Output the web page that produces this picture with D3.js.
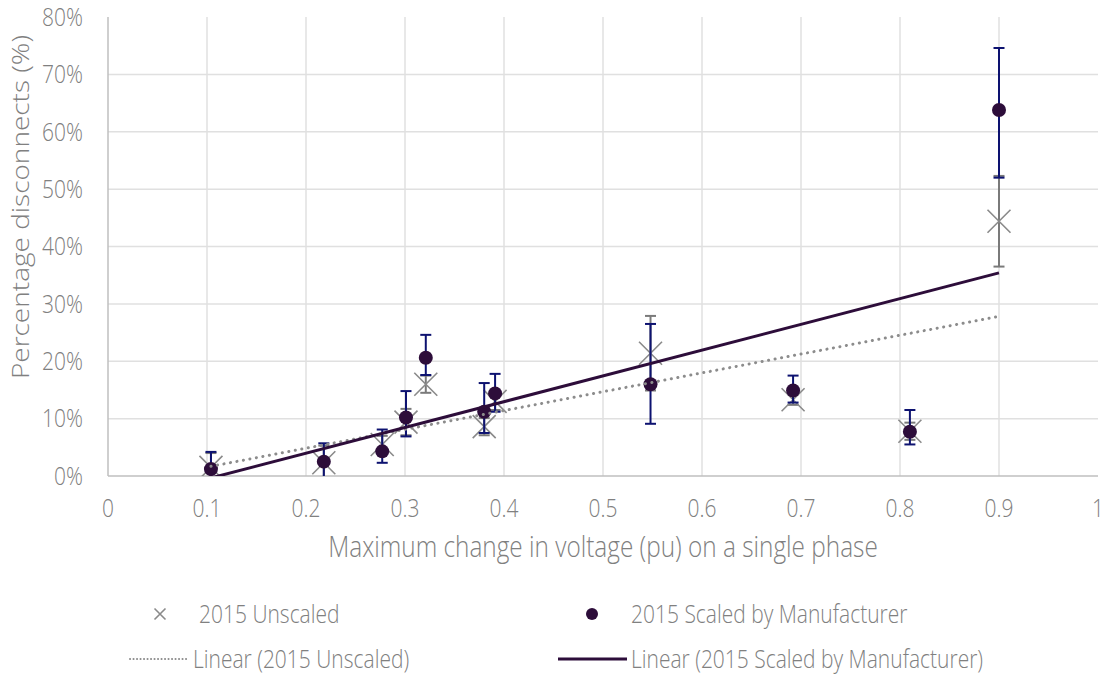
<!DOCTYPE html>
<html>
<head>
<meta charset="utf-8">
<script src="https://cdn.jsdelivr.net/npm/d3@7"></script>
<style>
  html, body { margin: 0; padding: 0; background: #ffffff; }
  svg { display: block; font-family: "Open Sans", "Noto Sans", sans-serif; }
  text { font-weight: 300; }
</style>
</head>
<body>
<svg id="chart" width="1106" height="675"></svg>
<script>
// ---- data ----
const xValues = [0.104, 0.218, 0.277, 0.301, 0.321, 0.380, 0.391, 0.548, 0.692, 0.810, 0.900];
const unscaled = [1.5, 2.3, 5.5, 9.4, 16.0, 8.6, 13.0, 21.4, 13.3, 7.8, 44.4];
const unscaledErr = [2.5, 3.0, 1.5, 2.3, 1.5, 1.5, 1.5, 6.5, 0.9, 1.5, 7.9];
const scaled = [1.2, 2.5, 4.3, 10.2, 20.6, 11.2, 14.4, 16.0, 14.9, 7.7, 63.8];
const scaledErrPlus = [3.0, 3.2, 3.8, 4.6, 4.0, 5.0, 3.4, 10.5, 2.6, 3.8, 10.8];
const scaledErrMinus = [3.0, 3.2, 2.0, 3.3, 3.0, 3.7, 3.2, 6.9, 2.1, 2.2, 11.8];
const xTicks = [0, 0.1, 0.2, 0.3, 0.4, 0.5, 0.6, 0.7, 0.8, 0.9, 1];
const yTicks = [0, 10, 20, 30, 40, 50, 60, 70, 80];
const seriesNames = ["2015 Unscaled", "2015 Scaled by Manufacturer"];
const trendNames = ["Linear (2015 Unscaled)", "Linear (2015 Scaled by Manufacturer)"];
const xTitle = "Maximum change in voltage (pu) on a single phase";
const yTitle = "Percentage disconnects (%)";

// ---- layout ----
const L = 108, R = 1098, T = 17, B = 476;
const SX = 0.84; // horizontal text compression
const textColor = "#808080";
const gridColor = "#e0e0e0";
const axisColor = "#bfbfbf";
const navy = "#0d1270";
const purple = "#2d0d3a";
const grayMark = "#8a8a8a";

const svg = d3.select("#chart");
const x = d3.scaleLinear().domain([0, 1]).range([L, R]);
const y = d3.scaleLinear().domain([0, 80]).range([B, T]);

function label(g, px, py, txt, size, anchor, dy) {
  return g.append("text")
    .attr("transform", `translate(${px},${py}) scale(${SX},1)`)
    .attr("text-anchor", anchor).attr("dy", dy || 0)
    .attr("fill", textColor).style("font-size", size + "px").text(txt);
}

svg.append("defs").append("clipPath").attr("id", "plotclip")
  .append("rect").attr("x", L).attr("y", T).attr("width", R - L).attr("height", B - T);

// gridlines
const grid = svg.append("g");
grid.selectAll("line.v").data(xTicks.filter(d => d > 0 && d < 1)).join("line")
  .attr("x1", d => x(d)).attr("x2", d => x(d)).attr("y1", T).attr("y2", B)
  .attr("stroke", gridColor).attr("stroke-width", 1.5);
grid.selectAll("line.h").data(yTicks.filter(d => d > 0 && d < 80)).join("line")
  .attr("x1", L).attr("x2", R).attr("y1", d => y(d)).attr("y2", d => y(d))
  .attr("stroke", gridColor).attr("stroke-width", 1.5);

// axes lines
svg.append("line").attr("x1", L).attr("x2", L).attr("y1", T).attr("y2", B)
  .attr("stroke", axisColor).attr("stroke-width", 1.5);
svg.append("line").attr("x1", L).attr("x2", R).attr("y1", B).attr("y2", B)
  .attr("stroke", axisColor).attr("stroke-width", 1.5);

// tick labels
const xt = svg.append("g");
xTicks.forEach(d => label(xt, x(d), 517, d3.format("")(d), 25, "middle"));
const yt = svg.append("g");
yTicks.forEach(d => label(yt, 83, y(d), d + "%", 25, "end", "0.35em"));

// axis titles
label(svg, 603, 557, xTitle, 29, "middle");
svg.append("text").attr("transform", `translate(29,207) scale(${SX},1) rotate(-90)`)
  .attr("text-anchor", "middle").attr("fill", textColor)
  .style("font-size", "28px").text(yTitle);

const plot = svg.append("g").attr("clip-path", "url(#plotclip)");
const idx = d3.range(xValues.length);
const cap = 5.5;

function errBars(g, lo, hi, color) {
  const e = g.append("g");
  e.selectAll("line.s").data(idx).join("line")
    .attr("x1", i => x(xValues[i])).attr("x2", i => x(xValues[i]))
    .attr("y1", i => y(lo(i))).attr("y2", i => y(hi(i)))
    .attr("stroke", color).attr("stroke-width", 2);
  e.selectAll("line.t").data(idx).join("line")
    .attr("x1", i => x(xValues[i]) - cap).attr("x2", i => x(xValues[i]) + cap)
    .attr("y1", i => y(hi(i))).attr("y2", i => y(hi(i)))
    .attr("stroke", color).attr("stroke-width", 2);
  e.selectAll("line.b").data(idx).join("line")
    .attr("x1", i => x(xValues[i]) - cap).attr("x2", i => x(xValues[i]) + cap)
    .attr("y1", i => y(lo(i))).attr("y2", i => y(lo(i)))
    .attr("stroke", color).attr("stroke-width", 2);
}

// unscaled error bars + X markers
errBars(plot, i => unscaled[i] - unscaledErr[i], i => unscaled[i] + unscaledErr[i], "#7a7a7a");
const xs = 11.5;
plot.append("g").selectAll("path").data(idx).join("path")
  .attr("d", i => {
    const cx = x(xValues[i]), cy = y(unscaled[i]);
    return `M${cx - xs},${cy - xs}L${cx + xs},${cy + xs}M${cx - xs},${cy + xs}L${cx + xs},${cy - xs}`;
  })
  .attr("stroke", grayMark).attr("stroke-width", 1.6).attr("fill", "none");

// scaled error bars + circles
errBars(plot, i => scaled[i] - scaledErrMinus[i], i => scaled[i] + scaledErrPlus[i], navy);
plot.append("g").selectAll("circle").data(idx).join("circle")
  .attr("cx", i => x(xValues[i])).attr("cy", i => y(scaled[i])).attr("r", 7)
  .attr("fill", purple);

// linear trendlines (least squares)
function fit(ys) {
  const mx = d3.mean(xValues), my = d3.mean(ys);
  let sxy = 0, sxx = 0;
  xValues.forEach((xv, i) => { sxy += (xv - mx) * (ys[i] - my); sxx += (xv - mx) * (xv - mx); });
  const m = sxy / sxx, b = my - m * mx;
  const x0 = d3.min(xValues), x1 = d3.max(xValues);
  return [[x0, m * x0 + b], [x1, m * x1 + b]];
}
const line = d3.line().x(d => x(d[0])).y(d => y(d[1]));
plot.append("path").attr("d", line(fit(unscaled)))
  .attr("stroke", "#8c8c8c").attr("stroke-width", 3).attr("fill", "none")
  .attr("stroke-dasharray", "0.1 6.5").attr("stroke-linecap", "round");
plot.append("path").attr("d", line(fit(scaled)))
  .attr("stroke", purple).attr("stroke-width", 3).attr("fill", "none");

// legend
const lg = svg.append("g");
const lx = 160, ly = 614;
const ls = 5.5;
lg.append("path").attr("d", `M${lx - ls},${ly - ls}L${lx + ls},${ly + ls}M${lx - ls},${ly + ls}L${lx + ls},${ly - ls}`)
  .attr("stroke", grayMark).attr("stroke-width", 1.6);
label(lg, 199, ly, seriesNames[0], 25, "start", "0.35em");
lg.append("circle").attr("cx", 592).attr("cy", ly).attr("r", 6).attr("fill", purple);
label(lg, 631, ly, seriesNames[1], 25, "start", "0.35em");
const ly2 = 659;
lg.append("line").attr("x1", 130).attr("x2", 188).attr("y1", ly2).attr("y2", ly2)
  .attr("stroke", "#8c8c8c").attr("stroke-width", 2).attr("stroke-dasharray", "0.1 3.4").attr("stroke-linecap", "round");
label(lg, 193, ly2, trendNames[0], 25, "start", "0.35em");
lg.append("line").attr("x1", 558).attr("x2", 627).attr("y1", ly2).attr("y2", ly2)
  .attr("stroke", purple).attr("stroke-width", 3);
label(lg, 631, ly2, trendNames[1], 25, "start", "0.35em");
</script>
</body>
</html>
